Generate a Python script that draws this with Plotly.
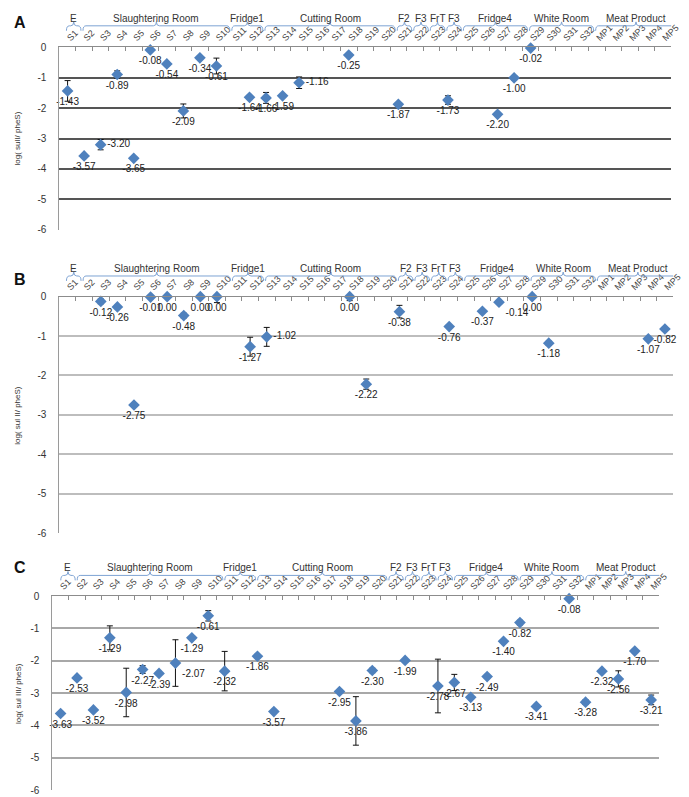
import plotly.graph_objects as go

categories = ["S1", "S2", "S3", "S4", "S5", "S6", "S7", "S8", "S9", "S10",
              "S11", "S12", "S13", "S14", "S15", "S16", "S17", "S18", "S19", "S20",
              "S21", "S22", "S23", "S24", "S25", "S26", "S27", "S28", "S29", "S30",
              "S31", "S32", "MP1", "MP2", "MP3", "MP4", "MP5"]

# Panel A: log(sulI/pheS)
sulI = [-1.43, -3.57, -3.20, -0.89, -3.65, -0.08, -0.54, -2.09, -0.34, -0.61,
        None, -1.64, -1.66, -1.59, -1.16, None, None, -0.25, None, None,
        -1.87, None, None, -1.73, None, None, -2.20, -1.00, -0.02, None,
        None, None, None, None, None, None, None]
sulI_err = [0.34, 0.03, 0.17, 0.12, 0.03, 0.0, 0.0, 0.23, 0.0, 0.26,
            0, 0.05, 0.18, 0.0, 0.19, 0, 0, 0.0, 0, 0,
            0.06, 0, 0, 0.14, 0, 0, 0.03, 0.07, 0.0, 0,
            0, 0, 0, 0, 0, 0, 0]

# Panel B: log(sul II/pheS)
sulII = [None, None, -0.12, -0.26, -2.75, -0.01, 0.00, -0.48, 0.00, 0.00,
         None, -1.27, -1.02, None, None, None, None, 0.00, -2.22, None,
         -0.38, None, None, -0.76, None, -0.37, -0.14, None, 0.00, -1.18,
         None, None, None, None, None, -1.07, -0.82]
sulII_err = [0, 0, 0.06, 0.0, 0.0, 0.0, 0.0, 0.06, 0.0, 0.15,
             0, 0.24, 0.24, 0, 0, 0, 0, 0.10, 0.13, 0,
             0.16, 0, 0, 0.0, 0, 0.0, 0.0, 0, 0.0, 0.05,
             0, 0, 0, 0, 0, 0.0, 0.0]

# Panel C: log(sul III/pheS)
sulIII = [-3.63, -2.53, -3.52, -1.29, -2.98, -2.27, -2.39, -2.07, -1.29, -0.61,
          -2.32, None, -1.86, -3.57, None, None, None, -2.95, -3.86, -2.30,
          None, -1.99, None, -2.78, -2.67, -3.13, -2.49, -1.40, -0.82, -3.41,
          None, -0.08, -3.28, -2.32, -2.56, -1.70, -3.21]
sulIII_err = [0.0, 0.06, 0.0, 0.37, 0.75, 0.12, 0.0, 0.72, 0.0, 0.16,
              0.61, 0, 0.05, 0.0, 0, 0, 0, 0.0, 0.75, 0.07,
              0, 0.0, 0, 0.83, 0.25, 0.05, 0.0, 0.0, 0.07, 0.0,
              0, 0.0, 0.07, 0.0, 0.25, 0.0, 0.15]

group_names = ["E", "Slaughtering Room", "Fridge1", "Cutting Room", "F2", "F3",
               "FrT", "F3", "Fridge4", "White Room", "Meat Product"]
group_start = ["S1", "S2", "S11", "S13", "S21", "S22", "S23", "S24", "S25", "S29", "MP1"]
group_end = ["S1", "S10", "S12", "S20", "S21", "S22", "S23", "S24", "S28", "S32", "MP5"]

y_ticks = [0, -1, -2, -3, -4, -5, -6]

W, H = 689, 797
FONT = "Liberation Sans Narrow, Liberation Sans, Arial, sans-serif"
BLUE = "#4F81BD"
BRACE = "#7EA3D3"

posA = {"S3": "middle right", "S15": "middle right"}
posB = {"S13": "middle right", "S27": "bottom right"}
posC = {"S8": "bottom right"}

panels = [
    dict(letter="A", vals=sulI, err=sulI_err, title="log( sulI/ pheS)",
         px=(52, 672), py=(34, 219), grid="#555555", pos=posA,
         brace_y=12, label_y=5, letter_y=9, shift=0.37),
    dict(letter="B", vals=sulII, err=sulII_err, title="log( sul II/ pheS)",
         px=(52, 674), py=(287, 527), grid="#bdbdbd", pos=posB,
         brace_y=266, label_y=258, letter_y=270, shift=0.37),
    dict(letter="C", vals=sulIII, err=sulIII_err, title="log( sul III/ pheS)",
         px=(45, 660), py=(591, 788), grid="#a8a8a8", pos=posC,
         brace_y=570, label_y=562, letter_y=562, shift=0.45),
]

fig = go.Figure()
shapes = []
annotations = []

for k, p in enumerate(panels, start=1):
    xa = "x" if k == 1 else f"x{k}"
    ya = "y" if k == 1 else f"y{k}"
    xs, ys, txt, tpos, eplus, eminus = [], [], [], [], [], []
    for c, v, e in zip(categories, p["vals"], p["err"]):
        if v is None:
            continue
        xs.append(c)
        ys.append(v)
        txt.append(f"{v:.2f}")
        tpos.append(p["pos"].get(c, "bottom center"))
        eminus.append(e)
        eplus.append(min(e, -v))
    fig.add_trace(go.Scatter(
        x=xs, y=ys, mode="markers+text", text=txt, textposition=tpos,
        textfont=dict(family=FONT, size=10, color="#222222"),
        marker=dict(symbol="diamond", size=9, color=BLUE),
        error_y=dict(type="data", symmetric=False, array=eplus, arrayminus=eminus,
                     color="#111111", thickness=1, width=3),
        cliponaxis=False, showlegend=False, xaxis=xa, yaxis=ya))

    x0p, x1p = p["px"]
    y0p, y1p = p["py"]
    xdom = [x0p / W, x1p / W]
    ydom = [1 - y1p / H, 1 - y0p / H]
    fig.update_layout(**{
        ("xaxis" if k == 1 else f"xaxis{k}"): dict(
            domain=xdom, anchor=ya, side="top", type="category",
            categoryorder="array", categoryarray=categories,
            range=[-0.5, len(categories) - 0.5],
            tickangle=-45, tickfont=dict(family=FONT, size=9, color="#444444"),
            showline=True, linecolor="#8c8c8c", linewidth=1,
            ticks="inside", ticklen=4, tickcolor="#8c8c8c", tickson="boundaries",
            showgrid=False, zeroline=False, fixedrange=True),
        ("yaxis" if k == 1 else f"yaxis{k}"): dict(
            domain=ydom, anchor=xa, range=[-6, 0], tickvals=y_ticks,
            ticktext=[str(t) for t in y_ticks],
            tickfont=dict(family=FONT, size=10, color="#333333"),
            ticklabelstandoff=10,
            showgrid=True, gridcolor=p["grid"], gridwidth=1.6,
            showline=True, linecolor="#9a9a9a", linewidth=1,
            zeroline=False, fixedrange=True),
    })

    # group braces
    by = 1 - p["brace_y"] / H
    bb = 1 - (p["brace_y"] + 5) / H
    bp = 1 - (p["brace_y"] - 4) / H
    for name, s, e in zip(group_names, group_start, group_end):
        i0 = categories.index(s)
        i1 = categories.index(e)
        xl = i0 - 0.5 + p["shift"] + 0.06
        xr = i1 + 0.5 + p["shift"] - 0.06
        xm = (xl + xr) / 2
        r = 0.18
        path = (f"M {xl},{bb} Q {xl},{by} {xl + r},{by} L {xm - r},{by} "
                f"Q {xm},{by} {xm},{bp} Q {xm},{by} {xm + r},{by} "
                f"L {xr - r},{by} Q {xr},{by} {xr},{bb}")
        shapes.append(dict(type="path", path=path, xref=xa, yref="paper",
                           line=dict(color=BRACE, width=1)))
        annotations.append(dict(text=name, x=xm, y=1 - p["label_y"] / H,
                                xref=xa, yref="paper", showarrow=False,
                                xanchor="center", yanchor="middle",
                                font=dict(family=FONT, size=10, color="#333333")))

    annotations.append(dict(text=f"<b>{p['letter']}</b>", x=4 / W, y=1 - p["letter_y"] / H,
                            xref="paper", yref="paper", showarrow=False,
                            xanchor="left", yanchor="middle",
                            font=dict(family="Liberation Sans, Arial", size=16, color="#111111")))
    annotations.append(dict(text=p["title"], x=10 / W, y=1 - (y0p + y1p) / 2 / H,
                            xref="paper", yref="paper", showarrow=False, textangle=-90,
                            xanchor="center", yanchor="middle",
                            font=dict(family=FONT, size=8, color="#333333")))

fig.update_layout(width=W, height=H, margin=dict(l=0, r=0, t=0, b=0),
                  paper_bgcolor="white", plot_bgcolor="white",
                  shapes=shapes, annotations=annotations)

fig.write_html("out.html")
